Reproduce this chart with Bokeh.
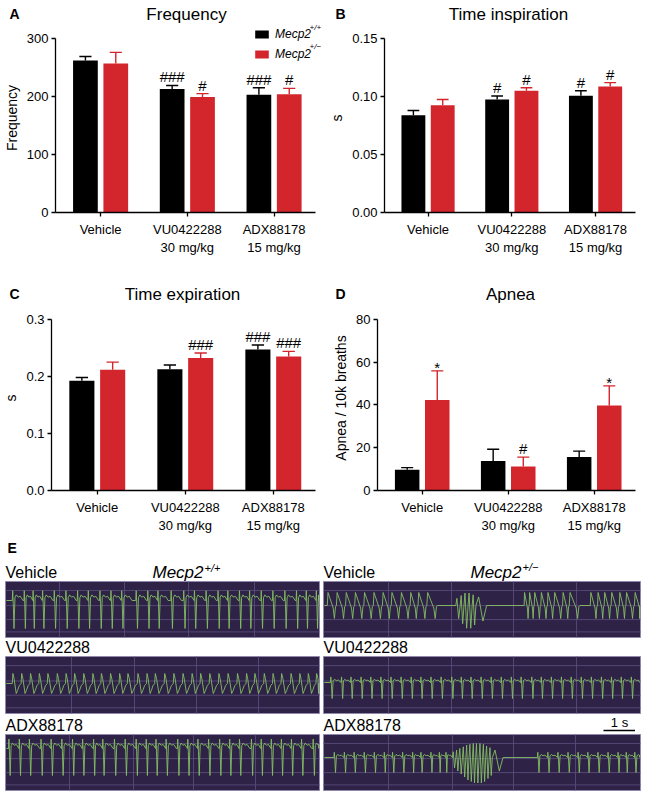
import numpy as np
from bokeh.plotting import figure
from bokeh.models import (Range1d, FixedTicker, Label, Legend, LegendItem,
                          ColumnDataSource, NumeralTickFormatter)
from bokeh.core.properties import value
from bokeh.layouts import column, row
from bokeh.embed import file_html
from bokeh.resources import INLINE

FONT = "Liberation Sans"
BLACK = "#000000"
RED = "#d3252c"

# ---------------- data ----------------
groups = ["Vehicle", "VU0422288\n30 mg/kg", "ADX88178\n15 mg/kg"]

freq_wt = [262, 213, 203]
freq_wt_sem = [7, 6, 12]
freq_het = [257, 199, 204]
freq_het_sem = [19, 6, 10]
freq_wt_sig = ["", "###", "###"]
freq_het_sig = ["", "#", "#"]

tin_wt = [0.0839, 0.0974, 0.1006]
tin_wt_sem = [0.0040, 0.0030, 0.0043]
tin_het = [0.0925, 0.1050, 0.1086]
tin_het_sem = [0.0049, 0.0025, 0.0034]
tin_wt_sig = ["", "#", "#"]
tin_het_sig = ["", "#", "#"]

tex_wt = [0.1925, 0.2126, 0.2470]
tex_wt_sem = [0.0055, 0.0074, 0.0080]
tex_het = [0.2115, 0.2320, 0.2350]
tex_het_sem = [0.0135, 0.0090, 0.0087]
tex_wt_sig = ["", "", "###"]
tex_het_sig = ["", "###", "###"]

apnea_wt = [9.7, 13.8, 15.6]
apnea_wt_sem = [1.0, 5.5, 2.8]
apnea_het = [42.3, 11.2, 39.7]
apnea_het_sem = [13.6, 4.4, 9.2]
apnea_wt_sig = ["", "", ""]
apnea_het_sig = ["*", "#", "*"]

# plethysmography traces (times of breaths in seconds within each 10 s window)
wt_vehicle_breaths = [0.12, 0.49, 0.77, 1.07, 1.44, 1.81, 2.18, 2.52, 2.89, 3.24, 3.58,
                      4.04, 4.41, 4.73, 5.15, 5.55, 5.89, 6.26, 6.64, 6.95, 7.32, 7.64,
                      8.01, 8.38, 8.76, 9.13, 9.44, 9.76]
wt_vu_breaths = [0.12, 0.40, 0.68, 0.96, 1.23, 1.53, 1.81, 2.08, 2.37, 2.66, 2.93, 3.22,
                 3.51, 3.77, 4.09, 4.38, 4.64, 4.94, 5.23, 5.52, 5.81, 6.08, 6.37, 6.66,
                 6.95, 7.25, 7.54, 7.80, 8.10, 8.38, 8.65, 8.95, 9.23, 9.50, 9.76]
wt_adx_breaths = [0.00, 0.33, 0.65, 1.02, 1.34, 1.68, 2.02, 2.34, 2.69, 2.98, 3.35, 3.69,
                  4.04, 4.36, 4.67, 4.99, 5.36, 5.68, 6.00, 6.34, 6.69, 7.01, 7.32, 7.70,
                  8.01, 8.33, 8.65, 8.97, 9.29, 9.66]
het_vehicle_breaths = [0.12, 0.41, 0.70, 0.99, 1.28, 1.58, 1.87, 2.15, 2.45, 2.75, 3.00,
                       3.28, 6.37, 6.53, 6.69, 6.90, 7.11, 7.32, 7.59, 7.80, 8.47, 8.70,
                       8.91, 9.13, 9.39, 9.60, 9.87]
het_vehicle_burst = [4.20, 4.34, 4.46, 4.59, 4.72, 4.84]
het_vehicle_burst_amp = [1.0, 1.4, 1.75, 1.75, 1.5, 1.2]
het_vu_breaths = [0.22, 0.56, 0.86, 1.18, 1.49, 1.81, 2.13, 2.45, 2.77, 3.08, 3.40, 3.72,
                  4.06, 4.36, 4.67, 4.99, 5.31, 5.63, 5.95, 6.26, 6.60, 6.90, 7.22, 7.54,
                  7.85, 8.17, 8.49, 8.81, 9.13, 9.44, 9.76]
het_adx_breaths = [0.33, 0.65, 0.96, 1.28, 1.60, 1.92, 2.18, 2.50, 2.82, 3.08, 3.40, 3.67,
                   3.88, 6.79, 7.11, 7.43, 7.75, 8.07, 8.38, 8.70, 9.02, 9.34, 9.60, 9.87]
het_adx_burst = [4.09, 4.20, 4.30, 4.41, 4.52, 4.62, 4.73, 4.83, 4.94, 5.05, 5.15, 5.26, 5.36]
het_adx_burst_amp = [0.7, 0.9, 1.1, 1.3, 1.5, 1.6, 1.7, 1.7, 1.7, 1.6, 1.4, 1.2, 0.9]


# ---------------- helpers ----------------
def blank(width, height):
    p = figure(width=width, height=height, x_range=Range1d(0, width),
               y_range=Range1d(height, 0), output_backend="svg", toolbar_location=None,
               min_border=0, x_axis_location=None, y_axis_location=None)
    p.grid.visible = False
    p.outline_line_color = None
    return p


def txt(p, x, y, text, size, style="normal", align="left", baseline="middle"):
    p.add_layout(Label(x=x, y=y, text=text, text_font=FONT, text_font_size=f"{size}px",
                       text_font_style=style, text_align=align, text_baseline=baseline,
                       text_color="black"))


def bar_panel(width, height, bl, bb, frame_w, units_w, ymax, frame_h, axis_h,
              ticks, fmt, ylabel, wt, wt_e, het, het_e, wt_sig, het_sig):
    x0 = -0.52
    x_end = x0 + 3.0 * frame_w / units_w
    y_end = ymax * frame_h / axis_h
    p = figure(width=width, height=height, x_range=Range1d(x0, x_end),
               y_range=Range1d(0, y_end), output_backend="svg",
               toolbar_location=None, min_border_left=bl, min_border_right=0,
               min_border_top=0, min_border_bottom=bb)
    p.outline_line_color = None
    p.grid.visible = False
    off, w, cap = 0.175, 0.285, 0.07
    xs = np.arange(len(groups))
    rends = []
    for sgn, vals, errs, sig, col in [(-1, wt, wt_e, wt_sig, BLACK),
                                      (1, het, het_e, het_sig, RED)]:
        x = xs + sgn * off
        top = np.array(vals)
        hi = top + np.array(errs)
        r = p.vbar(x=x, top=top, bottom=0, width=w, fill_color=col, line_color=None)
        rends.append(r)
        p.segment(x0=x, y0=top, x1=x, y1=hi, line_color=col, line_width=1.4)
        p.segment(x0=x - cap, y0=hi, x1=x + cap, y1=hi, line_color=col, line_width=1.4)
        yoff = [5 if s == "*" else 0 for s in sig]
        src = ColumnDataSource(dict(x=x, y=hi, t=sig, yo=yoff))
        p.text(x="x", y="y", text="t", source=src, y_offset="yo",
               text_font=value(FONT), text_font_size="15px",
               text_align="center", text_baseline="bottom", text_color="black")
    for ax in (p.xaxis[0], p.yaxis[0]):
        ax.axis_line_width = 1.3
        ax.axis_line_color = "black"
        ax.major_tick_line_color = "black"
        ax.major_tick_line_width = 1.3
        ax.major_tick_out = 4
        ax.major_tick_in = 0
        ax.minor_tick_line_color = None
        ax.major_label_text_font = FONT
        ax.major_label_text_font_size = "13px"
        ax.major_label_text_color = "black"
    p.xaxis.ticker = FixedTicker(ticks=list(range(len(groups))))
    p.xaxis.major_label_overrides = {i: g for i, g in enumerate(groups)}
    p.xaxis.major_label_standoff = 5
    p.xaxis.bounds = (x0, x0 + 3.0)
    p.yaxis.ticker = FixedTicker(ticks=ticks)
    p.yaxis.formatter = NumeralTickFormatter(format=fmt)
    p.yaxis.major_label_standoff = 3
    p.yaxis.bounds = (0, ymax)
    p.yaxis.axis_label = ylabel
    p.yaxis.axis_label_text_font = FONT
    p.yaxis.axis_label_text_font_size = "14px"
    p.yaxis.axis_label_text_font_style = "normal"
    p.yaxis.axis_label_text_color = "black"
    p.yaxis.axis_label_standoff = 4
    return p, rends


# ---------------- row 1 ----------------
h1 = blank(645, 23)
txt(h1, 9, 13.5, "A", 14, "bold")
txt(h1, 186, 13.5, "Frequency", 17, align="center")
txt(h1, 335, 13.5, "B", 14, "bold")
txt(h1, 508, 13.5, "Time inspiration", 17, align="center")

# figure y 23..262, frame 23..212, axis top at y=38
pA, rA = bar_panel(326, 239, 50, 50, 276, 265, 300, 189, 174, [0, 100, 200, 300], "0",
                   "Frequency", freq_wt, freq_wt_sem, freq_het, freq_het_sem,
                   freq_wt_sig, freq_het_sig)
leg = Legend(items=[LegendItem(label="Mecp2", renderers=[rA[0]]),
                    LegendItem(label="Mecp2", renderers=[rA[1]])],
             location=(198, 151), glyph_width=17, glyph_height=10, label_height=10,
             label_standoff=5, spacing=6, padding=0, margin=0,
             border_line_color=None, background_fill_alpha=0,
             label_text_font=FONT, label_text_font_size="12px",
             label_text_font_style="italic", label_text_baseline="middle",
             label_text_color="black")
pA.add_layout(leg)
pA.add_layout(Label(x=254, y=185, x_units="screen", y_units="screen", text="+/+",
                    text_font=FONT, text_font_size="8px", text_font_style="italic",
                    text_baseline="middle", text_color="black"))
pA.add_layout(Label(x=254, y=166, x_units="screen", y_units="screen", text="+/\u2212",
                    text_font=FONT, text_font_size="8px", text_font_style="italic",
                    text_baseline="middle", text_color="black"))

pB, _ = bar_panel(319, 239, 51, 50, 268, 258, 0.15, 189, 174, [0, 0.05, 0.10, 0.15], "0.00",
                  "s", tin_wt, tin_wt_sem, tin_het, tin_het_sem, tin_wt_sig, tin_het_sig)

# ---------------- row 2 ----------------
h2 = blank(645, 43)
txt(h2, 9, 31, "C", 14, "bold")
txt(h2, 182, 32, "Time expiration", 17, align="center")
txt(h2, 335, 31, "D", 14, "bold")
txt(h2, 510, 32, "Apnea", 17, align="center")

# figure y 305..535, frame 305..493, axis top at y=319
pC, _ = bar_panel(326, 230, 50, 42, 276, 265, 0.3, 188, 174, [0, 0.1, 0.2, 0.3], "0.0",
                  "s", tex_wt, tex_wt_sem, tex_het, tex_het_sem, tex_wt_sig, tex_het_sig)
pD, _ = bar_panel(319, 230, 51, 42, 268, 258, 80, 188, 174, [0, 20, 40, 60, 80], "0",
                  "Apnea / 10k breaths", apnea_wt, apnea_wt_sem, apnea_het, apnea_het_sem,
                  apnea_wt_sig, apnea_het_sig)

# ---------------- panel E: traces (figure y 535..796) ----------------
PX = 31.5  # pixels per second in the recordings
pE = figure(width=645, height=261, x_range=Range1d(0, 645 / PX), y_range=Range1d(261, 0),
            output_backend="svg", toolbar_location=None, min_border=0,
            x_axis_location=None, y_axis_location=None)
pE.grid.visible = False
pE.outline_line_color = None

BOX_BG = "#2e2346"
GRID = "#5d4f80"
EDGE = "#9088ad"
GREEN = "#84c062"

box_cols = [(5 / PX, 319 / PX), (323 / PX, 640 / PX)]
trace_origin = [8 / PX, 323 / PX]
rows_y = [(46, 102), (121, 178), (199, 255)]
vgrid_px = {(0, 0): [59, 124, 188, 254], (0, 1): [71, 134, 196, 258],
            (0, 2): [69, 133, 193, 255], (1, 0): [388, 451, 513, 576],
            (1, 1): [388, 451, 513, 576], (1, 2): [388, 452, 513, 575]}
for ci, (x0, x1) in enumerate(box_cols):
    for ri, (y0, y1) in enumerate(rows_y):
        pE.quad(left=[x0], right=[x1], top=[y0], bottom=[y1], fill_color=BOX_BG,
                line_color=EDGE, line_width=1)
        h = y1 - y0
        hy = [y0 + f * h for f in (0.16, 0.43, 0.68, 0.9)]
        pE.segment(x0=[x0] * 4, x1=[x1] * 4, y0=hy, y1=hy, line_color=GRID, line_width=0.8)
        vx = [v / PX for v in vgrid_px[(ci, ri)]]
        pE.segment(x0=vx, x1=vx, y0=[y0] * 4, y1=[y1] * 4, line_color=GRID, line_width=0.8)

SHAPES = {
    "sharp": [(0, 0), (0.04, 0.35), (0.09, -0.1), (0.16, -1.0), (0.25, 0.1), (0.38, 0.2),
              (0.55, 0.12), (0.75, 0.15), (1, 0)],
    "wave": [(0, 0), (0.07, 1.0), (0.2, 0.5), (0.45, -1.0), (0.6, -0.7), (0.8, -0.2), (1, 0)],
    "saw": [(0, 0), (0.08, 1.0), (0.65, -0.2), (0.78, -1.0), (0.9, -0.1), (1, 0)],
    "burst": [(0, 0), (0.25, 0.55), (0.65, -1.0), (1, 0)],
}


def trace(events, t0, x0, x1, yb, scale):
    events = sorted(events)
    xs, ys = [x0], [yb]
    for i, (t, a, sh) in enumerate(events):
        nxt = events[i + 1][0] if i + 1 < len(events) else t + 0.32
        d = min(nxt - t, 0.34)
        for ph, v in SHAPES[sh]:
            xs.append(t0 + t + ph * d)
            ys.append(yb - a * v * scale)
    xs.append(x1)
    ys.append(yb)
    xs = np.clip(np.array(xs), x0 + 0.03, x1 - 0.03)
    return xs, np.array(ys)


def ev(times, shape, amps=None):
    if amps is None:
        amps = [1.0] * len(times)
    return [(t, a, shape) for t, a in zip(times, amps)]


traces = [
    (ev(wt_vehicle_breaths, "sharp"), 0, 65, 28),
    (ev(wt_vu_breaths, "wave"), 0, 148, 10),
    (ev(wt_adx_breaths, "sharp"), 0, 213, 27),
    (ev(het_vehicle_breaths, "saw") + ev(het_vehicle_burst, "burst", het_vehicle_burst_amp), 1, 70, 13),
    (ev(het_vu_breaths, "sharp"), 1, 147, 16),
    (ev(het_adx_breaths, "sharp") + ev(het_adx_burst, "burst", het_adx_burst_amp), 1, 222, 15),
]
for events, ci, yb, sc in traces:
    x0, x1 = box_cols[ci]
    xs, ys = trace(events, trace_origin[ci], x0, x1, yb, sc)
    pE.line(xs, ys, line_color=GREEN, line_width=0.9)


def elab(xpx, y, text, size, style="normal", align="left"):
    txt(pE, xpx / PX, y, text, size, style, align)


elab(7, 12, "E", 14, "bold")
for xpx in (5, 323):
    for (y0, y1), name in zip(rows_y, ["Vehicle", "VU0422288", "ADX88178"]):
        elab(xpx, y0 - 9, name, 16)
elab(152, 37, "Mecp2", 17, "italic")
elab(204, 32, "+/+", 11, "italic")
elab(470, 37, "Mecp2", 17, "italic")
elab(522, 31, "+/\u2212", 11, "italic")
# 1 s scale bar
sb0 = 603 / PX
pE.segment(x0=[sb0], x1=[sb0 + 1.0], y0=[195], y1=[195], line_color="black", line_width=1.3)
elab(619, 187, "1 s", 13, align="center")

layout = column(h1, row(pA, pB), h2, row(pC, pD), pE)
open("out.html", "w").write(file_html(layout, INLINE))
